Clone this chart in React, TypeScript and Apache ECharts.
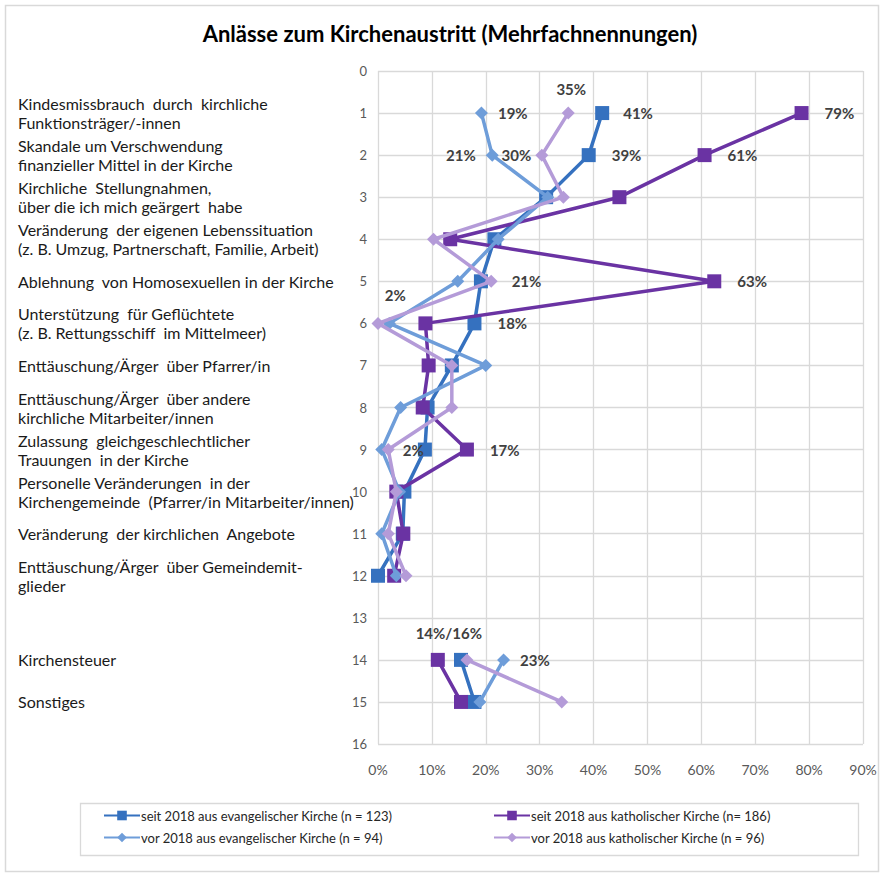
import React, { useEffect, useRef } from "react";
import * as echarts from "echarts";

const TITLE = "Anlässe zum Kirchenaustritt (Mehrfachnennungen)";

// Row numbers 1..15 (row 13 is an empty spacer row)
const rows = [1, 2, 3, 4, 5, 6, 7, 8, 9, 10, 11, 12, 13, 14, 15];

const categories = [
  "Kindesmissbrauch  durch  kirchliche\nFunktionsträger/-innen",
  "Skandale um Verschwendung\nfinanzieller Mittel in der Kirche",
  "Kirchliche  Stellungnahmen,\nüber die ich mich geärgert  habe",
  "Veränderung  der eigenen Lebenssituation\n(z. B. Umzug, Partnerschaft, Familie, Arbeit)",
  "Ablehnung  von Homosexuellen in der Kirche",
  "Unterstützung  für Geflüchtete\n(z. B. Rettungsschiff  im Mittelmeer)",
  "Enttäuschung/Ärger  über Pfarrer/in",
  "Enttäuschung/Ärger  über andere\nkirchliche Mitarbeiter/innen",
  "Zulassung  gleichgeschlechtlicher\nTrauungen  in der Kirche",
  "Personelle Veränderungen  in der\nKirchengemeinde  (Pfarrer/in Mitarbeiter/innen)",
  "Veränderung  der kirchlichen  Angebote",
  "Enttäuschung/Ärger  über Gemeindemit-\nglieder",
  "",
  "Kirchensteuer",
  "Sonstiges",
];

const seriesNames = [
  "seit 2018 aus evangelischer Kirche (n = 123)",
  "seit 2018 aus katholischer Kirche (n= 186)",
  "vor 2018 aus evangelischer Kirche (n = 94)",
  "vor 2018 aus katholischer Kirche (n = 96)",
];

// values in percent, null = gap (row 13)
const seitEvangelisch = [41.6, 39.1, 31.2, 21.6, 19.1, 17.9, 13.7, 9.2, 8.7, 4.9, 4.6, 0, null, 15.4, 17.9];
const seitKatholisch = [78.6, 60.6, 44.8, 13.4, 62.4, 8.8, 9.4, 8.3, 16.5, 3.4, 4.7, 3.0, null, 11.1, 15.4];
const vorEvangelisch = [19.2, 21.2, 31.5, 22.3, 14.8, 2.1, 20.0, 4.2, 0.7, 4.0, 0.7, 3.4, null, 23.3, 18.9];
const vorKatholisch = [35.3, 30.4, 34.4, 10.3, 21.0, 0, 13.7, 13.7, 1.9, 3.4, 1.9, 5.2, null, 16.5, 34.1];

// data label texts ('' = no label)
const seitEvangelischLabels = ["41%", "39%", "", "", "", "18%", "", "", "", "", "", "", "", "", ""];
const seitKatholischLabels = ["79%", "61%", "", "", "63%", "", "", "", "17%", "", "", "", "", "14%/16%", ""];
const vorEvangelischLabels = ["19%", "21%", "", "", "", "2%", "", "", "", "", "", "", "", "23%", ""];
const vorKatholischLabels = ["35%", "30%", "", "", "21%", "", "", "", "2%", "", "", "", "", "", ""];

const xTicks = [0, 10, 20, 30, 40, 50, 60, 70, 80, 90];

const COLORS = ["#3571BF", "#6A33A3", "#6E9DD9", "#B49BD8"];
const FONT = "Lato, 'Open Sans', sans-serif";

// label placement per series: row index -> [position, offset]
const labelPlacement: Record<number, Record<number, [string, [number, number]]>> = {
  0: { 0: ["right", [4, 0]], 1: ["right", [6, 0]], 5: ["right", [6, 0]] },
  1: { 0: ["right", [6, 0]], 1: ["right", [6, 0]], 4: ["right", [6, 0]], 8: ["right", [6, 0]], 13: ["top", [11, -2]] },
  2: { 0: ["right", [0, 0]], 1: ["left", [0, 0]], 5: ["top", [6, -4]], 13: ["right", [0, 0]] },
  3: { 0: ["top", [3, 0]], 1: ["left", [6, 0]], 4: ["right", [4, 0]], 8: ["right", [-2, 0]] },
};

function buildSeries(idx: number, values: (number | null)[], labels: string[], symbol: string, size: number) {
  const data = values.map((v, i) => {
    const item: any = { value: [v === null ? "-" : v, rows[i]] };
    const text = labels[i];
    if (text) {
      const pl = labelPlacement[idx][i] || ["right", [0, 0]];
      item.label = {
        show: true,
        position: pl[0],
        offset: pl[1],
        distance: 10,
        formatter: text,
        color: "#404040",
        fontWeight: "bold",
        fontSize: 15,
        fontFamily: FONT,
      };
    }
    return item;
  });
  return {
    name: seriesNames[idx],
    type: "line",
    data,
    symbol,
    symbolSize: size,
    connectNulls: false,
    lineStyle: { color: COLORS[idx], width: 3.5 },
    itemStyle: { color: COLORS[idx] },
    label: { show: false },
    emphasis: { disabled: true },
    z: 2 + idx,
  };
}

const legendText = { fontFamily: FONT, fontSize: 13, color: "#262626", padding: [0, 0, 0, -4] };

export default function App() {
  const ref = useRef<HTMLDivElement>(null);
  useEffect(() => {
    if (!ref.current) return;
    const chart = echarts.init(ref.current, undefined, { renderer: "svg" });
    const option: any = {
      animation: false,
      backgroundColor: "#ffffff",
      title: {
        text: TITLE,
        left: 445,
        top: 17,
        textAlign: "center",
        textStyle: { fontFamily: FONT, fontWeight: "bold", fontSize: 22, color: "#000000" },
      },
      grid: { left: 378, right: 17, top: 71, bottom: 129, containLabel: false },
      xAxis: {
        type: "value",
        min: 0,
        max: 90,
        interval: 10,
        axisLine: { show: false },
        axisTick: { show: false },
        splitLine: { show: true, lineStyle: { color: "#D9D9D9", width: 1.3 } },
        axisLabel: {
          formatter: (v: number) => (xTicks.indexOf(v) >= 0 ? v + "%" : ""),
          color: "#595959",
          fontSize: 14,
          fontFamily: FONT,
          margin: 18,
        },
      },
      yAxis: [
        {
          type: "value",
          inverse: true,
          min: 0,
          max: 16,
          interval: 1,
          axisLine: { show: false },
          axisTick: { show: false },
          splitLine: { show: true, lineStyle: { color: "#D9D9D9", width: 1.3 } },
          axisLabel: { color: "#595959", fontSize: 13, fontFamily: FONT, margin: 11 },
        },
        {
          type: "value",
          inverse: true,
          position: "left",
          min: 0,
          max: 16,
          interval: 1,
          axisLine: { show: false },
          axisTick: { show: false },
          splitLine: { show: false },
          axisLabel: {
            formatter: (v: number) => (v >= 1 && v <= categories.length ? categories[v - 1] : ""),
            align: "left",
            margin: 360,
            color: "#1a1a1a",
            fontSize: 16,
            lineHeight: 19,
            fontFamily: FONT,
          },
        },
      ],
      legend: [
        {
          data: [seriesNames[0], seriesNames[2]],
          orient: "vertical",
          left: 98,
          top: 804,
          itemGap: 9,
          itemWidth: 36,
          itemHeight: 12,
          textStyle: legendText,
        },
        {
          data: [seriesNames[1], seriesNames[3]],
          orient: "vertical",
          left: 488,
          top: 804,
          itemGap: 9,
          itemWidth: 36,
          itemHeight: 12,
          textStyle: legendText,
        },
      ],
      graphic: [
        { type: "rect", left: 3, top: 3, shape: { width: 873, height: 866 }, style: { fill: "none", stroke: "#D9D9D9", lineWidth: 1.5 }, silent: true, z: -10 },
        { type: "rect", left: 78, top: 801, shape: { width: 778, height: 52 }, style: { fill: "none", stroke: "#D9D9D9", lineWidth: 1.3 }, silent: true },
      ],
      series: [
        buildSeries(0, seitEvangelisch, seitEvangelischLabels, "rect", 14),
        buildSeries(1, seitKatholisch, seitKatholischLabels, "rect", 14),
        buildSeries(2, vorEvangelisch, vorEvangelischLabels, "diamond", 13),
        buildSeries(3, vorKatholisch, vorKatholischLabels, "diamond", 13),
      ],
    };
    chart.setOption(option);
    return () => chart.dispose();
  }, []);
  return <div ref={ref} style={{ position: "fixed", left: 0, top: 0, width: 880, height: 873 }} />;
}
